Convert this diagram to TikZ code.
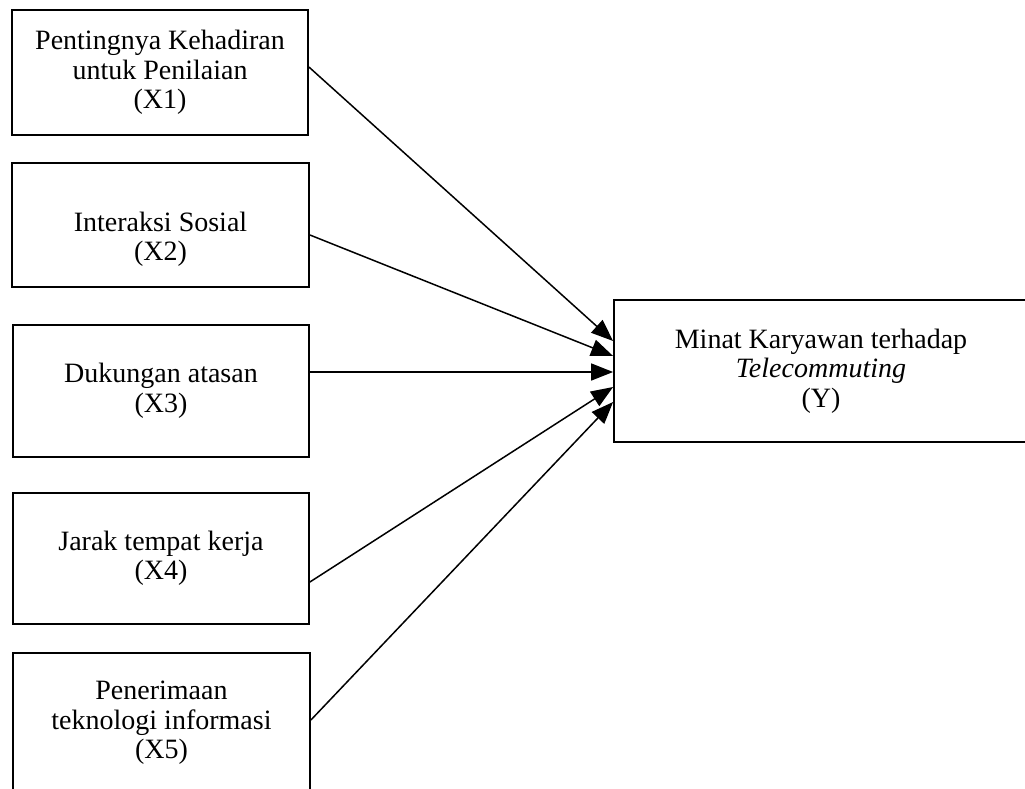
\documentclass[tikz,border=0pt]{standalone}
\usepackage{fontspec}
\setmainfont{Liberation Serif}
\usetikzlibrary{arrows.meta}
\begin{document}
\begin{tikzpicture}[x=1pt,y=-1pt,
  box/.style={draw, line width=1.8pt, rectangle, align=center, inner sep=0pt,
    font=\fontsize{28}{29.5}\selectfont},
  link/.style={line width=1.5pt, -{Triangle[length=22pt,width=17pt]}}]
\useasboundingbox (0,0) rectangle (1025,789);
\begin{scope}
\clip (0,0) rectangle (1025,789);
\node[box, minimum width=296pt, minimum height=125pt] (x1) at (160,72.5)
  {Pentingnya Kehadiran\\untuk Penilaian\\(X1)};
\node[box, minimum width=297pt, minimum height=124pt] (x2) at (160.5,225)
  {\rule{0pt}{48pt}Interaksi Sosial\\(X2)};
\node[box, minimum width=296pt, minimum height=132pt] (x3) at (161,391)
  {Dukungan atasan\\(X3)};
\node[box, minimum width=296pt, minimum height=131pt] (x4) at (161,558.5)
  {Jarak tempat kerja\\(X4)};
\node[box, minimum width=297pt, minimum height=140pt] (x5) at (161.5,723)
  {Penerimaan\\teknologi informasi\\(X5)};
\node[box, minimum width=414pt, minimum height=142pt] (y) at (821,371)
  {Minat Karyawan terhadap\\\textit{Telecommuting}\\(Y)};
\draw[link] ([yshift=5.5pt]x1.east) -- ([yshift=30pt]y.west);
\draw[link] ([yshift=-10pt]x2.east) -- ([yshift=15pt]y.west);
\draw[link] ([yshift=19pt]x3.east) -- ([yshift=-1pt]y.west);
\draw[link] ([yshift=-23.5pt]x4.east) -- ([yshift=-16pt]y.west);
\draw[link] ([yshift=3pt]x5.east) -- ([yshift=-31pt]y.west);
\end{scope}
\end{tikzpicture}
\end{document}
